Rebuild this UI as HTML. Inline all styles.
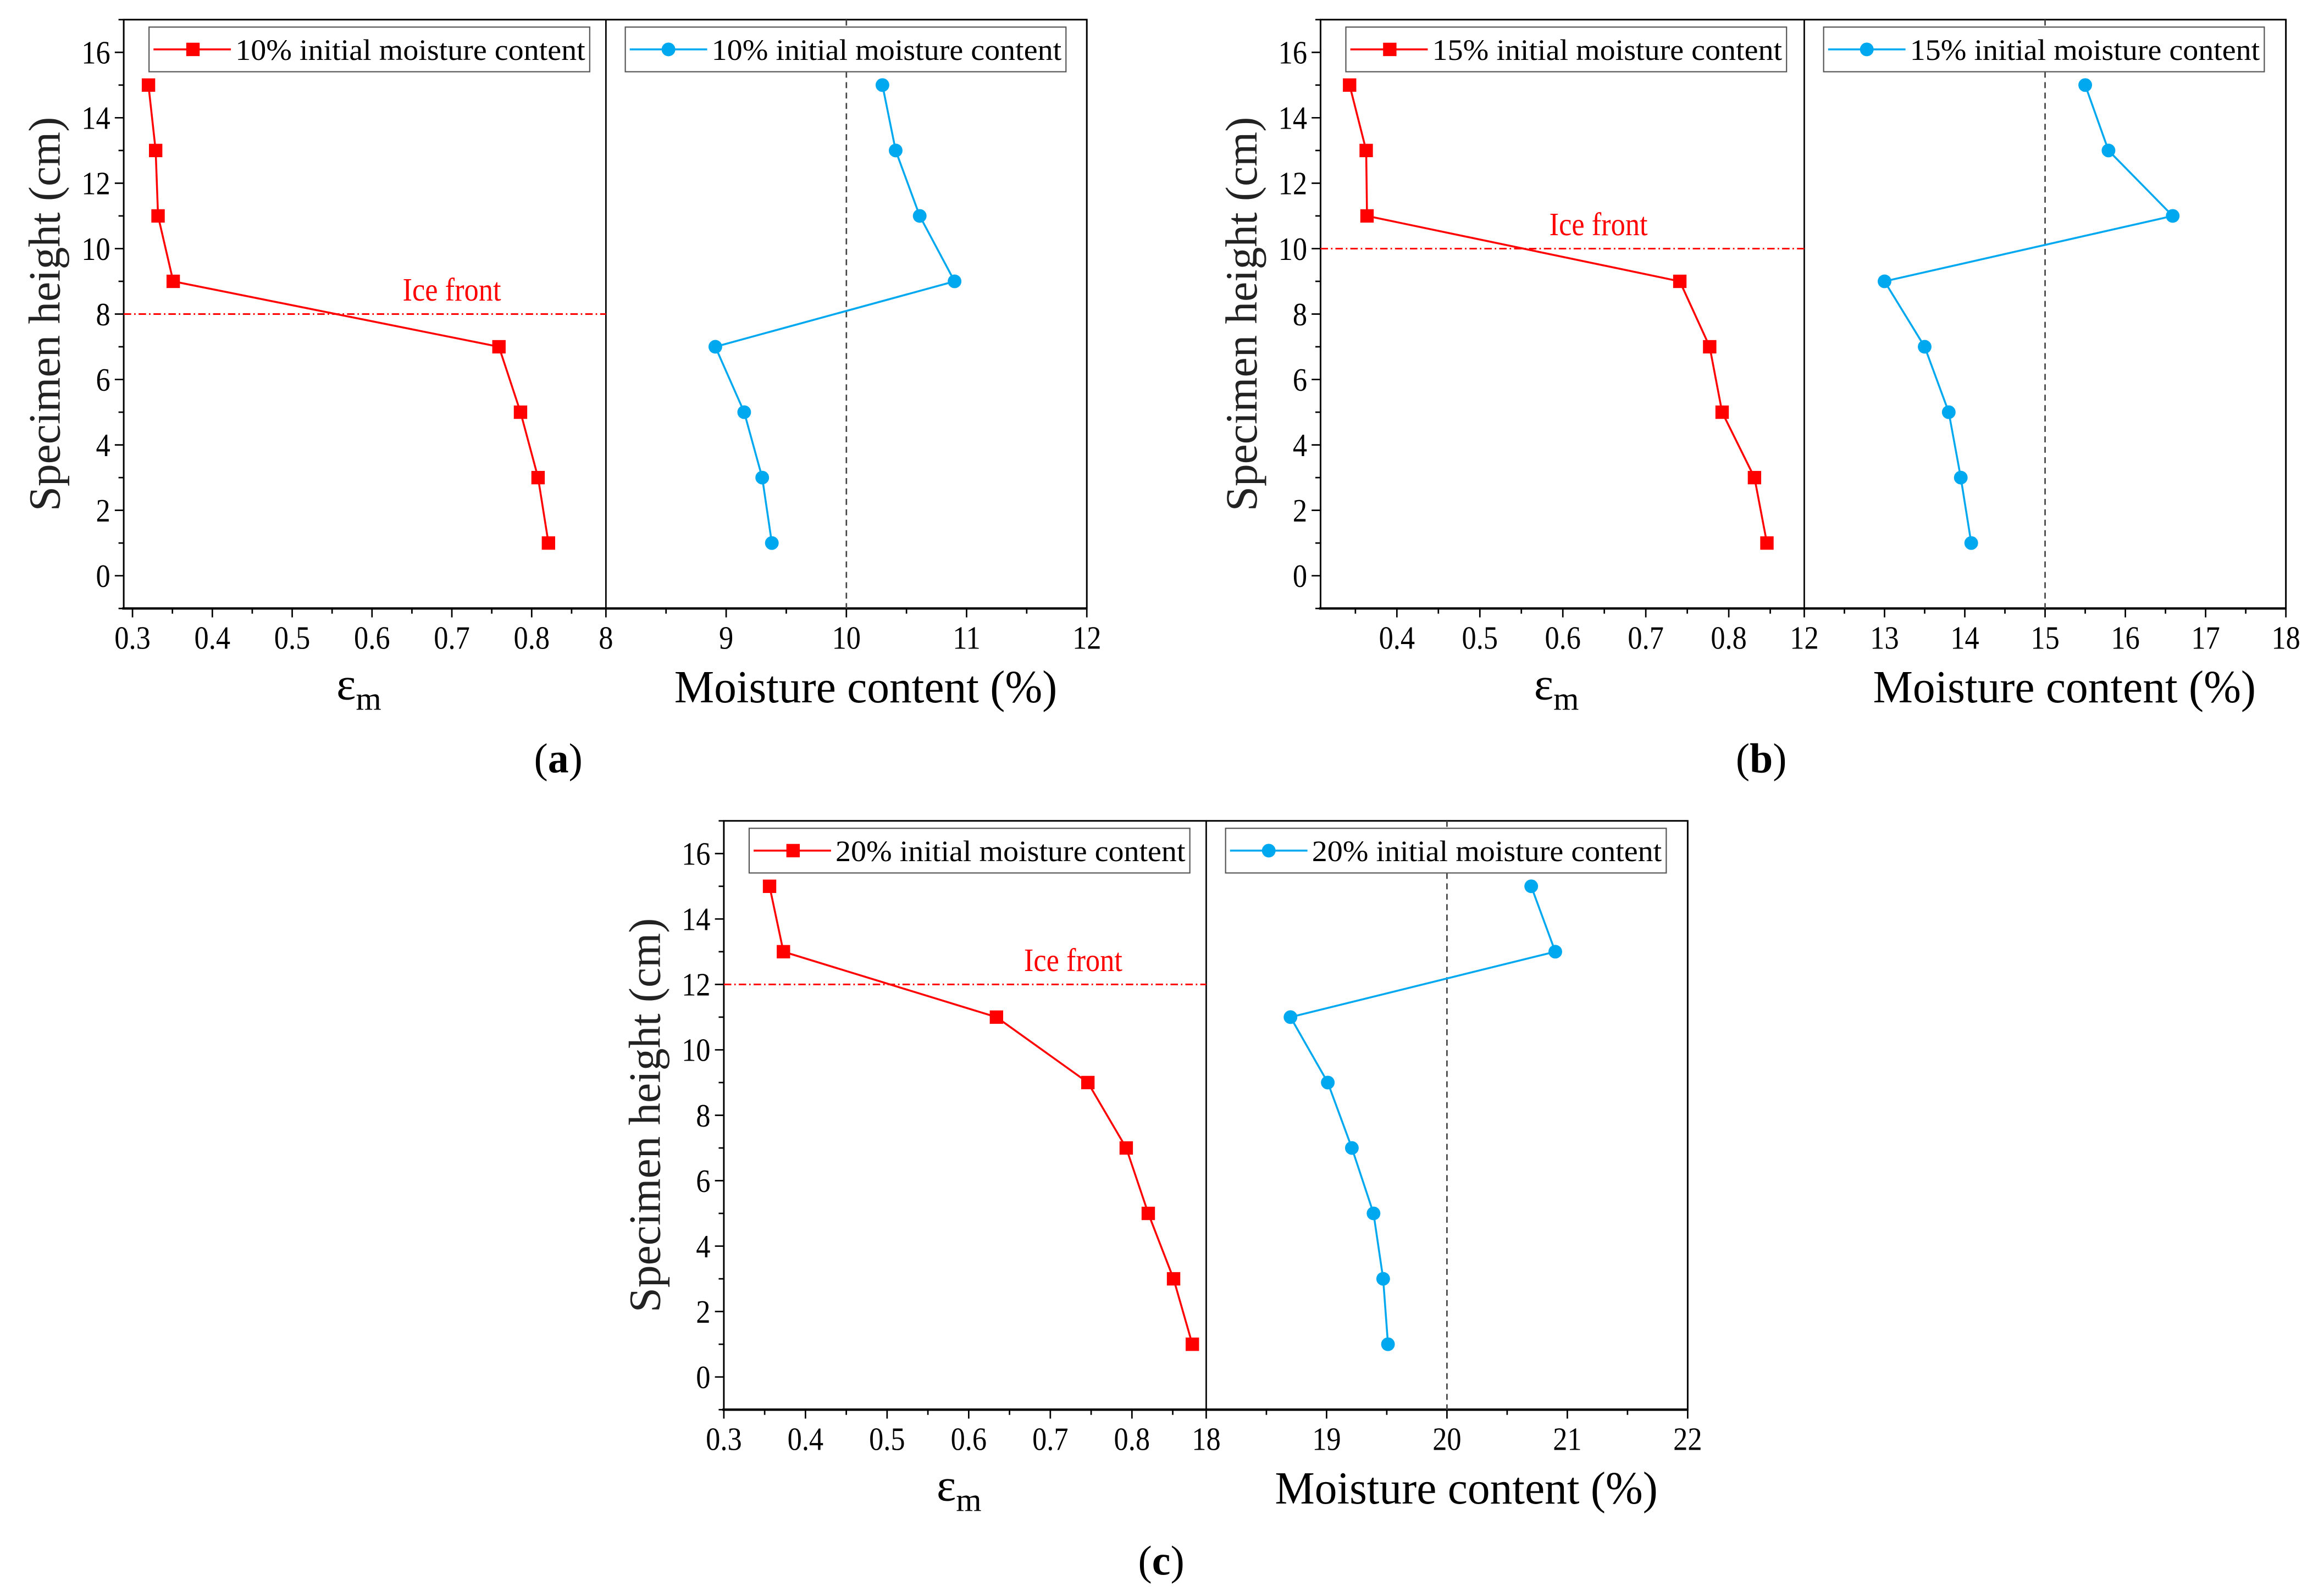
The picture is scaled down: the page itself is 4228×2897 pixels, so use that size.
<!DOCTYPE html>
<html><head><meta charset="utf-8"><style>
html,body{margin:0;padding:0;background:#fff;}
svg{display:block;}
text{font-family:"Liberation Serif",serif;}
</style></head><body>
<svg id="fig" width="4228" height="2897" viewBox="0 0 1561 1069.6" preserveAspectRatio="none" xmlns="http://www.w3.org/2000/svg"></svg>
<script>
// ---- data ----
const heights = [15, 13, 11, 9, 7, 5, 3, 1];
const epsA = [0.320, 0.329, 0.332, 0.351, 0.759, 0.786, 0.808, 0.821];
const mcA  = [10.30, 10.41, 10.61, 10.90, 8.91, 9.15, 9.30, 9.38];
const epsB = [0.343, 0.363, 0.364, 0.741, 0.777, 0.792, 0.831, 0.846];
const mcB  = [15.50, 15.79, 16.59, 13.00, 13.50, 13.80, 13.95, 14.08];
const epsC = [0.356, 0.373, 0.634, 0.746, 0.793, 0.820, 0.851, 0.874];
const mcC  = [20.70, 20.90, 18.70, 19.01, 19.21, 19.39, 19.47, 19.51];
const iceFront = [8, 10, 12];
const initialMC = [10, 15, 20];
const legendLabels = ["10% initial moisture content", "15% initial moisture content", "20% initial moisture content"];
const panelLabels = ["a", "b", "c"];
const yTicks = [0, 2, 4, 6, 8, 10, 12, 14, 16];
const epsTicksA = [0.3, 0.4, 0.5, 0.6, 0.7, 0.8];
const epsTicksB = [0.4, 0.5, 0.6, 0.7, 0.8];
const mcTicksA = [8, 9, 10, 11, 12];
const mcTicksB = [12, 13, 14, 15, 16, 17, 18];
const mcTicksC = [18, 19, 20, 21, 22];

const NS = "http://www.w3.org/2000/svg";
const svg = document.getElementById("fig");
function mk(tag, attrs, parent) {
  const e = document.createElementNS(NS, tag);
  for (const k in attrs) e.setAttribute(k, attrs[k]);
  (parent || svg).appendChild(e);
  return e;
}
function txt(parent, x, y, str, size, sx, anchor, color) {
  const t = mk("text", {transform:`translate(${x},${y}) scale(${sx},1)`, "text-anchor":anchor, "font-size":size}, parent);
  t.style.fill = color || "#000";
  t.textContent = str;
  return t;
}

const panels = [
  {L:83.1, M:407.0, R:730.0, T:13.2, B:408.8, e0:0.289, e1:0.893, m0:8, m1:12, eps:epsA, mc:mcA, et:epsTicksA, mt:mcTicksA, iceX:0.70, lab:[375,510]},
  {L:887.0, M:1211.9, R:1535.4, T:13.2, B:408.8, e0:0.308, e1:0.891, m0:12, m1:18, eps:epsB, mc:mcB, et:epsTicksB, mt:mcTicksB, iceX:0.643, lab:[1183,510]},
  {L:486.2, M:810.2, R:1133.6, T:551.5, B:947.1, e0:0.3, e1:0.891, m0:18, m1:22, eps:epsC, mc:mcC, et:epsTicksA, mt:mcTicksC, iceX:0.728, lab:[780,1049]}
];

panels.forEach((p, i) => {
  const g = mk("g", {});
  
  
  const yS = v => p.B - (v + 1) / 18 * (p.B - p.T);
  const xE = v => p.L + (v - p.e0) / (p.e1 - p.e0) * (p.M - p.L);
  const xM = v => p.M + (v - p.m0) / (p.m1 - p.m0) * (p.R - p.M);

  const fr = mk("rect", {x:p.L, y:p.T, width:p.R - p.L, height:p.B - p.T, fill:"none", stroke:"#000", "stroke-width":1.1}, g);
  
  
  const dv = mk("line", {x1:p.M, x2:p.M, y1:p.T, y2:p.B, stroke:"#000", "stroke-width":1}, g);
  
  
  mk("line", {x1:p.L - 1, x2:p.R, y1:p.B, y2:p.B, stroke:"#000", "stroke-width":1.6}, g);

  for (let v = -1; v <= 17; v++) {
    const major = v % 2 === 0;
    mk("line", {x1:p.L - (major ? 6 : 3.5), x2:p.L, y1:yS(v), y2:yS(v), stroke:"#000", "stroke-width":1}, g);
  }
  yTicks.forEach(v => {
    const t = txt(g, p.L - 9, yS(v) + 7.5, String(v), 22, 0.88, "end");
    
    
  });
  const yt = mk("text", {transform:`translate(${p.L - 43},${(p.T + p.B) / 2}) rotate(-90)`, "text-anchor":"middle", "font-size":30}, g);
  yt.style.fill = "#222";
  yt.textContent = "Specimen height (cm)";
  
  

  for (let v = Math.ceil(p.e0 * 20) / 20; v <= p.e1 - 0.01; v += 0.05) {
    const major = Math.abs(v * 10 - Math.round(v * 10)) < 1e-6;
    mk("line", {x1:xE(v), x2:xE(v), y1:p.B, y2:p.B + (major ? 6 : 3.5), stroke:"#000", "stroke-width":1}, g);
  }
  p.et.forEach(v => {
    const t = txt(g, xE(v), p.B + 27, v.toFixed(1), 22, 0.88, "middle");
    
    
  });
  for (let v = p.m0; v <= p.m1 + 1e-6; v += 0.5) {
    const major = Math.abs(v - Math.round(v)) < 1e-6;
    mk("line", {x1:xM(v), x2:xM(v), y1:p.B, y2:p.B + (major ? 6 : 3.5), stroke:"#000", "stroke-width":1}, g);
  }
  p.mt.forEach(v => {
    const t = txt(g, xM(v), p.B + 27, String(v), 22, 0.88, "middle");
    
    
  });
  const et = mk("text", {x:(p.L + p.M) / 2 - 4, y:p.B + 61, "text-anchor":"middle", "font-size":31}, g);
  et.style.fill = "#000";
  et.innerHTML = 'ε<tspan font-size="22" dy="7">m</tspan>';
  
  
  const mt = txt(g, (p.M + p.R) / 2 + 13, p.B + 63, "Moisture content (%)", 31, 0.97, "middle");
  
  

  const ice = mk("line", {x1:p.L, x2:p.M, y1:yS(iceFront[i]), y2:yS(iceFront[i]), stroke:"#f00", "stroke-width":1.1, "stroke-dasharray":"5 2 1 2"}, g);
  
  
  const it = txt(g, xE(p.iceX), yS(iceFront[i]) - 9, "Ice front", 22, 0.88, "middle", "#f00");
  
  
  const ref = mk("line", {x1:xM(initialMC[i]), x2:xM(initialMC[i]), y1:p.T, y2:p.B, stroke:"#444", "stroke-width":1, "stroke-dasharray":"4 3"}, g);
  
  

  const red = mk("polyline", {points:heights.map((h, k) => xE(p.eps[k]) + "," + yS(h)).join(" "), fill:"none", stroke:"#f00", "stroke-width":1.3}, g);
  
  
  heights.forEach((h, k) => {
    const r = mk("rect", {x:xE(p.eps[k]) - 4.5, y:yS(h) - 4.5, width:9, height:9, fill:"#f00"}, g);
    
    
  });
  const blue = mk("polyline", {points:heights.map((h, k) => xM(p.mc[k]) + "," + yS(h)).join(" "), fill:"none", stroke:"#00a8f0", "stroke-width":1.3}, g);
  
  
  heights.forEach((h, k) => {
    const c = mk("ellipse", {cx:xM(p.mc[k]), cy:yS(h), rx:4.6, ry:4.6, fill:"#00a8f0"}, g);
    
    
  });

  [[p.L + 17, "#f00", "sq"], [p.M + 13, "#00a8f0", "ci"]].forEach(([lx, col, shp]) => {
    const lg = mk("g", {}, g);
    
    
    mk("rect", {x:lx, y:p.T + 5, width:296, height:30, fill:"#fff", stroke:"#555", "stroke-width":0.8}, lg);
    mk("line", {x1:lx + 3, x2:lx + 55, y1:p.T + 20, y2:p.T + 20, stroke:col, "stroke-width":1.3}, lg);
    if (shp === "sq") mk("rect", {x:lx + 25, y:p.T + 15.5, width:9, height:9, fill:col}, lg);
    else mk("ellipse", {cx:lx + 29, cy:p.T + 20, rx:4.6, ry:4.6, fill:col}, lg);
    const t = mk("text", {x:lx + 58, y:p.T + 27, "font-size":20, textLength:235, lengthAdjust:"spacingAndGlyphs"}, lg);
    t.style.fill = "#000";
    t.textContent = legendLabels[i];
  });

  const pl = mk("text", {x:p.lab[0], y:p.lab[1] + 9, "text-anchor":"middle", "font-size":28}, g);
  pl.style.fill = "#000";
  pl.innerHTML = '(<tspan font-weight="bold">' + panelLabels[i] + '</tspan>)';
  
  
});
</script>
</body></html>
